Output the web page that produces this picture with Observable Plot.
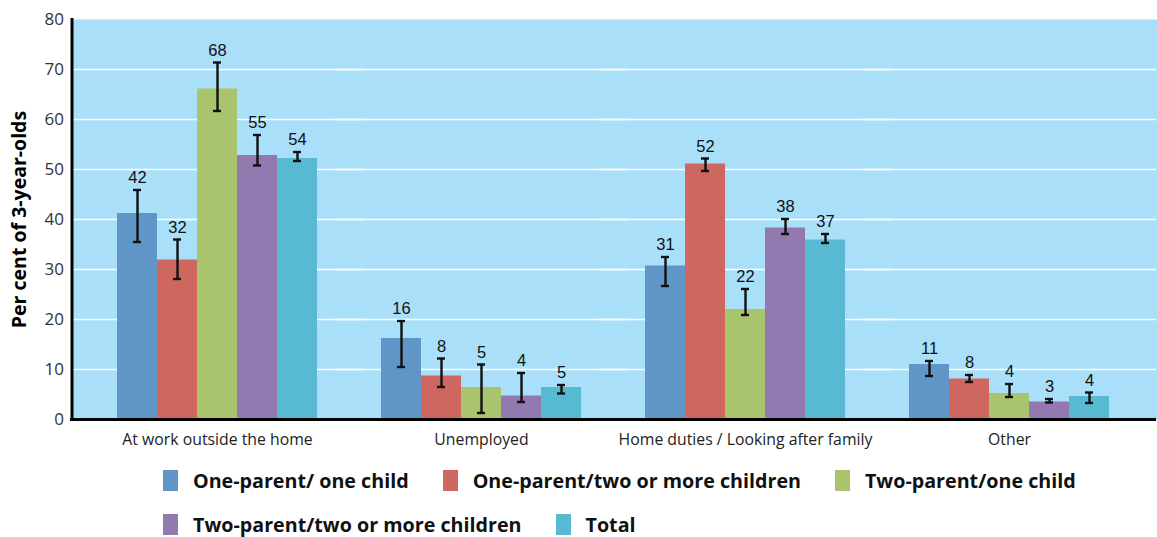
<!DOCTYPE html>
<html><head><meta charset="utf-8">
<script src="https://cdn.jsdelivr.net/npm/d3@7"></script>
<script src="https://cdn.jsdelivr.net/npm/@observablehq/plot@0.6"></script>
<style>
body{margin:0;background:#fff;font-family:"Open Sans",sans-serif;}
#legend{display:flex;flex-wrap:wrap;box-sizing:border-box;padding-left:163px;width:1120px;column-gap:34px;margin-top:3px;}
.item{display:flex;align-items:center;height:44px;font-weight:700;font-size:19.7px;color:#111;white-space:nowrap;}
.sw{width:15px;height:21px;margin-right:15px;}
</style></head><body><div id="chart"></div><div id="legend"></div>
<script>
const groups = ["At work outside the home", "Unemployed", "Home duties / Looking after family", "Other"];
const series = ["One-parent/ one child", "One-parent/two or more children", "Two-parent/one child", "Two-parent/two or more children", "Total"];
const colors = ["#6095c8", "#cd6760", "#aac46d", "#9279b0", "#58b9d3"];
const yTicks = [0, 10, 20, 30, 40, 50, 60, 70, 80];

// bar heights per series (by group)
const values = [
  [41.2, 16.2, 30.7, 11.0],
  [31.9, 8.7, 51.1, 8.1],
  [66.1, 6.4, 22.0, 5.2],
  [52.8, 4.7, 38.3, 3.5],
  [52.2, 6.4, 35.9, 4.6]
];
const lows = [
  [35.5, 10.5, 26.7, 8.7],
  [28.1, 6.5, 49.7, 7.5],
  [61.7, 1.3, 20.9, 4.5],
  [50.8, 3.5, 37.1, 3.4],
  [51.7, 5.2, 35.3, 3.3]
];
const highs = [
  [45.9, 19.7, 32.5, 11.7],
  [36.0, 12.2, 52.2, 8.9],
  [71.4, 11.0, 26.1, 7.1],
  [56.9, 9.3, 40.1, 4.1],
  [53.5, 6.9, 37.1, 5.4]
];
const labels = [
  [42, 16, 31, 11],
  [32, 8, 52, 8],
  [68, 5, 22, 4],
  [55, 4, 38, 3],
  [54, 5, 37, 4]
];
const yLabel = "Per cent of 3-year-olds";

const rows = groups.flatMap((g, gi) => series.map((s, si) => ({
  group: g, series: s, value: values[si][gi], low: lows[si][gi], high: highs[si][gi], label: labels[si][gi]
})));

// the facets leave an outer gap of this many pixels on each side of the frame
const outer = 44.5;

const chart = Plot.plot({
  width: 1157,
  height: 455,
  marginLeft: 70,
  marginRight: 0,
  marginTop: 19,
  marginBottom: 36,
  style: {fontFamily: "'Open Sans', sans-serif", background: "white"},
  fx: {domain: groups, paddingInner: 0.234, paddingOuter: 0.168, label: null},
  x: {domain: series, padding: 0, axis: null},
  y: {domain: [0, 80], axis: null},
  color: {domain: series, range: colors},
  marks: [
    Plot.frame({fill: "#aadff9", stroke: "none", facet: "super", insetLeft: -outer, insetRight: -outer - 2}),
    Plot.ruleY(yTicks.slice(1, -1), {stroke: "white", strokeWidth: 1.3, insetLeft: -46, insetRight: -46}),
    Plot.barY(rows, {fx: "group", x: "series", y: "value", fill: "series"}),
    Plot.ruleX(rows, {fx: "group", x: "series", y1: "low", y2: "high", stroke: "#111", strokeWidth: 2.4}),
    Plot.tickY(rows, {fx: "group", x: "series", y: "low", stroke: "#111", strokeWidth: 2.4, insetLeft: 16, insetRight: 16}),
    Plot.tickY(rows, {fx: "group", x: "series", y: "high", stroke: "#111", strokeWidth: 2.4, insetLeft: 16, insetRight: 16}),
    Plot.text(rows, {fx: "group", x: "series", y: "high", text: "label", dy: -7, lineAnchor: "bottom", fontSize: 16.5, fill: "#111", fontFamily: "'Liberation Sans Narrow', 'Liberation Sans', sans-serif"}),
    Plot.ruleY([0], {stroke: "#000", strokeWidth: 3, insetLeft: -46, insetRight: -46}),
    Plot.frame({anchor: "left", stroke: "#000", strokeWidth: 3, facet: "super", insetLeft: -outer}),
    Plot.axisY({ticks: yTicks, tickSize: 0, tickPadding: 8, dx: -outer, fontSize: 17, fill: "#333", label: null}),
    Plot.axisFx({anchor: "bottom", tickSize: 0, tickPadding: 14, fontSize: 15.8, fill: "#222", label: null}),
    Plot.text([yLabel], {frameAnchor: "left", textAnchor: "middle", rotate: -90, dx: -outer - 52, fontWeight: "bold", fontSize: 19.5, fill: "#000", facet: "super"})
  ]
});
document.getElementById("chart").appendChild(chart);

const legend = document.getElementById("legend");
series.forEach((s, i) => {
  const item = document.createElement("div");
  item.className = "item";
  const sw = document.createElement("span");
  sw.className = "sw";
  sw.style.background = colors[i];
  const t = document.createElement("span");
  t.textContent = s;
  item.appendChild(sw);
  item.appendChild(t);
  legend.appendChild(item);
});
</script></body></html>
